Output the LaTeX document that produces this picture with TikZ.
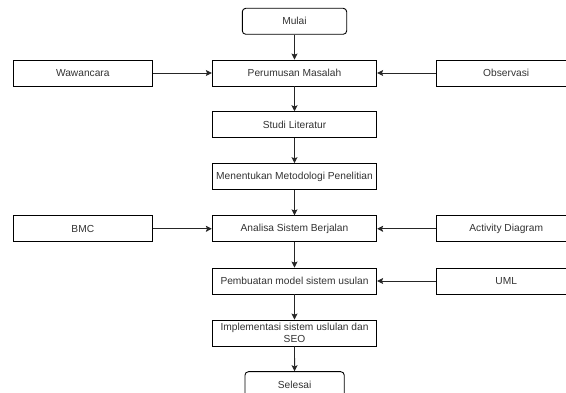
\documentclass[tikz,border=0pt]{standalone}
\usepackage{fontspec}
\setmainfont{Liberation Sans}
\usetikzlibrary{arrows.meta}
\begin{document}
\begin{tikzpicture}[x=1pt,y=-1pt,
  box/.style={draw=black, line width=0.9pt, fill=white, minimum height=26pt, inner sep=1pt,
    font=\fontsize{10.2}{12.5}\selectfont, text=black!80, align=center},
  mainbox/.style={box, minimum width=164.4pt},
  sidebox/.style={box, minimum width=139pt},
  termbox/.style={box, rounded corners=3.5pt},
  conn/.style={draw=black!85, line width=0.9pt, -{Stealth[length=6pt,width=6pt,inset=1.2pt]}}]
\useasboundingbox (0,0) rectangle (566,393);
\fill[white] (0,0) rectangle (566,393);
\begin{scope}
\clip (0,0) rectangle (566,393);
\node[termbox, minimum width=104.4pt] (mulai) at (294.5,21.3) {Mulai};
\node[mainbox] (perumusan) at (294.5,73) {Perumusan Masalah};
\node[mainbox] (studi) at (294.5,124.7) {Studi Literatur};
\node[mainbox] (metodologi) at (294.5,176.6) {Menentukan Metodologi Penelitian};
\node[mainbox] (analisa) at (294.5,228.8) {Analisa Sistem Berjalan};
\node[mainbox] (pembuatan) at (294.5,281) {Pembuatan model sistem usulan};
\node[mainbox] (implementasi) at (294.5,333) {Implementasi sistem uslulan dan\\SEO};
\node[termbox, minimum width=99.3pt] (selesai) at (294.6,384.7) {Selesai};
\node[sidebox] (wawancara) at (82.8,73) {Wawancara};
\node[sidebox] (observasi) at (506.2,73) {Observasi};
\node[sidebox] (bmc) at (82.8,228.8) {BMC};
\node[sidebox] (activity) at (506.2,228.8) {Activity Diagram};
\node[sidebox] (uml) at (506.2,281) {UML};
\draw[conn] (mulai) -- (perumusan);
\draw[conn] (perumusan) -- (studi);
\draw[conn] (studi) -- (metodologi);
\draw[conn] (metodologi) -- (analisa);
\draw[conn] (analisa) -- (pembuatan);
\draw[conn] (pembuatan) -- (implementasi);
\draw[conn] (implementasi) -- (selesai);
\draw[conn] (wawancara) -- (perumusan);
\draw[conn] (observasi) -- (perumusan);
\draw[conn] (bmc) -- (analisa);
\draw[conn] (activity) -- (analisa);
\draw[conn] (uml) -- (pembuatan);
\end{scope}
\end{tikzpicture}
\end{document}
